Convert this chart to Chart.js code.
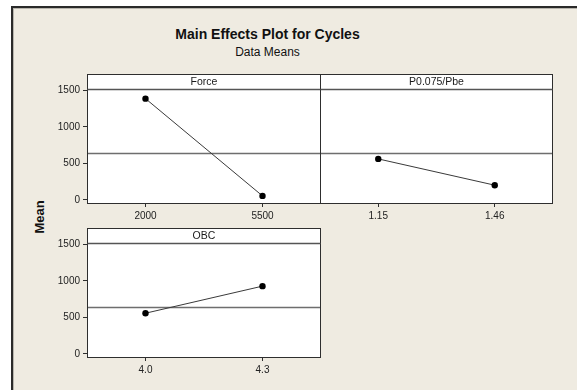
<!DOCTYPE html>
<html>
<head>
<meta charset="utf-8">
<title>Main Effects Plot for Cycles</title>
<script src="https://cdn.jsdelivr.net/npm/chart.js@4/dist/chart.umd.min.js"></script>
<style>
  html, body { margin: 0; padding: 0; background: #ffffff; overflow: hidden; }
  body { position: relative; width: 577px; height: 390px; font-family: "Liberation Sans", Arial, sans-serif; }
  .frame {
    position: absolute; left: 11px; top: 6px; width: 564px; height: 382px;
    background: #efebe1;
    border-top: 2px solid #2a2a2a; border-left: 2px solid #2a2a2a;
    box-shadow: inset 1px 1px 0 #b8b5ad;
  }
  .title { position: absolute; left: 0; width: 535px; top: 26px; text-align: center;
    font: bold 14px "Liberation Sans", Arial, sans-serif; color: #111; }
  .subtitle { position: absolute; left: 0; width: 535px; top: 45px; text-align: center;
    font: 12px "Liberation Sans", Arial, sans-serif; color: #111; }
  .ylabel { position: absolute; left: 39px; top: 217px; transform: translate(-50%, -50%) rotate(-90deg);
    font: bold 13px "Liberation Sans", Arial, sans-serif; color: #111; white-space: nowrap; }
  canvas { position: absolute; }
</style>
</head>
<body>
<div class="frame"></div>
<div class="title">Main Effects Plot for Cycles</div>
<div class="subtitle">Data Means</div>
<div class="ylabel">Mean</div>
<script>
// Factor levels and the mean response (Cycles) at each level
const FORCE_LEVELS = ['2000', '5500'];
const FORCE_MEANS = [1388, 55];
const PBE_LEVELS = ['1.15', '1.46'];
const PBE_MEANS = [562, 202];
const OBC_LEVELS = ['4.0', '4.3'];
const OBC_MEANS = [558, 929];
// Overall mean of all observations (reference line in every panel)
const GRAND_MEAN = 648;
// Shared y-axis ticks
const Y_TICKS = [0, 500, 1000, 1500];

const Y_MIN = -42;
const Y_MAX = 1520;
const HEADER_H = 15;
const INK = '#2e2e2e';
const TICK_FONT = { family: '"Liberation Sans", Arial, sans-serif', size: 10 };

// Draws the white panel, its title strip, the grand-mean reference line and the frame
const panelPlugin = {
  id: 'panel',
  beforeDraw(chart) {
    const { ctx, chartArea: a } = chart;
    ctx.save();
    ctx.fillStyle = '#ffffff';
    ctx.fillRect(a.left, a.top - HEADER_H, a.right - a.left, a.bottom - a.top + HEADER_H);
    ctx.restore();
  },
  beforeDatasetsDraw(chart) {
    const { ctx, chartArea: a, scales } = chart;
    const y = Math.round(scales.y.getPixelForValue(GRAND_MEAN)) + 0.5;
    ctx.save();
    ctx.strokeStyle = '#6e6e6e';
    ctx.lineWidth = 1.4;
    ctx.beginPath();
    ctx.moveTo(a.left, y);
    ctx.lineTo(a.right, y);
    ctx.stroke();
    ctx.restore();
  },
  afterDraw(chart, args, opts) {
    const { ctx, chartArea: a } = chart;
    const l = Math.round(a.left) + 0.5, r = Math.round(a.right) - 0.5;
    const t = Math.round(a.top) + 0.5, b = Math.round(a.bottom) + 0.5;
    ctx.save();
    ctx.strokeStyle = INK;
    ctx.lineWidth = 1;
    ctx.strokeRect(l, t - HEADER_H, r - l, b - t + HEADER_H);
    ctx.strokeStyle = '#555555';
    ctx.lineWidth = 1.4;
    ctx.beginPath();
    ctx.moveTo(l, t);
    ctx.lineTo(r, t);
    ctx.stroke();
    ctx.fillStyle = '#1a1a1a';
    ctx.font = '10.5px "Liberation Sans", Arial, sans-serif';
    ctx.textAlign = 'center';
    ctx.textBaseline = 'middle';
    ctx.fillText(opts.title, (l + r) / 2, t - HEADER_H / 2 + 0.5);
    ctx.restore();
  }
};

function panelConfig(title, levels, means, showY) {
  return {
    type: 'line',
    data: {
      labels: levels,
      datasets: [{
        data: means,
        borderColor: '#3a3a3a',
        borderWidth: 1,
        pointRadius: 3.2,
        pointBackgroundColor: '#000000',
        pointBorderColor: '#000000',
        pointBorderWidth: 0,
        tension: 0
      }]
    },
    options: {
      responsive: false,
      animation: false,
      devicePixelRatio: 1,
      layout: { padding: { top: HEADER_H + 1, right: 2, bottom: 0, left: 2 } },
      plugins: {
        legend: { display: false },
        tooltip: { enabled: false },
        panel: { title: title }
      },
      scales: {
        x: {
          type: 'category',
          offset: true,
          grid: { drawOnChartArea: false, drawTicks: true, tickLength: 4, color: INK, offset: false },
          border: { display: false },
          ticks: { color: '#222', font: TICK_FONT, padding: 3, maxRotation: 0 },
          afterFit(s) { s.height = 22; }
        },
        y: {
          display: showY,
          min: Y_MIN,
          max: Y_MAX,
          afterBuildTicks(s) { s.ticks = Y_TICKS.map(v => ({ value: v })); },
          grid: { drawOnChartArea: false, drawTicks: true, tickLength: 4, color: INK },
          border: { display: false },
          ticks: { color: '#222', font: TICK_FONT, padding: 3, callback: v => String(v) },
          afterFit(s) { s.width = showY ? 48 : 0; }
        }
      }
    },
    plugins: [panelPlugin]
  };
}

// Build a panel whose plotting area lands on the given page box (left, top, right, bottom)
function makePanel(box, title, levels, means, showY) {
  const [L, T, R, B] = box;
  const canvas = document.createElement('canvas');
  canvas.width = 300; canvas.height = 160;
  document.body.appendChild(canvas);
  let chart = new Chart(canvas, panelConfig(title, levels, means, showY));
  for (let i = 0; i < 2; i++) {
    const a = chart.chartArea;
    const w = Math.round(a.left + (R - L) + (canvas.width - a.right));
    const h = Math.round(a.top + (B - T) + (canvas.height - a.bottom));
    chart.destroy();
    canvas.width = w; canvas.height = h;
    canvas.style.width = w + 'px'; canvas.style.height = h + 'px';
    chart = new Chart(canvas, panelConfig(title, levels, means, showY));
  }
  const a = chart.chartArea;
  canvas.style.left = Math.round(L - a.left) + 'px';
  canvas.style.top = Math.round(T - a.top) + 'px';
  return chart;
}

makePanel([87, 89, 321, 203], 'Force', FORCE_LEVELS, FORCE_MEANS, true);
makePanel([320, 89, 553, 203], 'P0.075/Pbe', PBE_LEVELS, PBE_MEANS, false);
makePanel([87, 243, 321, 357], 'OBC', OBC_LEVELS, OBC_MEANS, true);
</script>
</body>
</html>
